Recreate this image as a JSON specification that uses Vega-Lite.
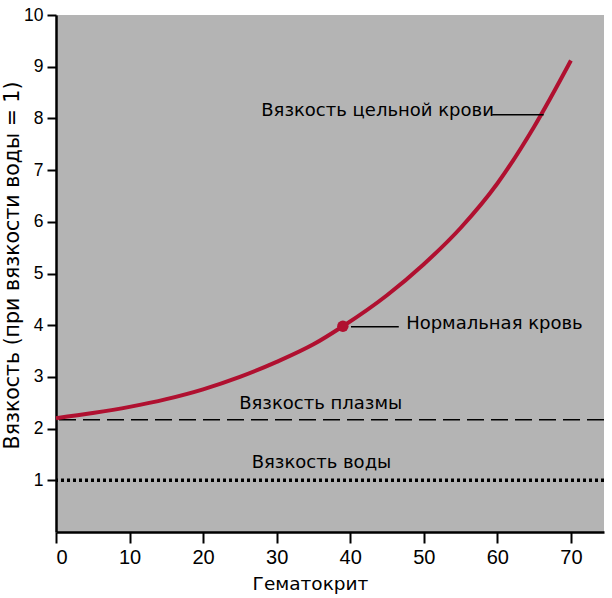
{
  "$schema": "https://vega.github.io/schema/vega-lite/v6.json",
  "width": 548,
  "height": 517,
  "padding": {"left": 56, "top": 15, "right": 8, "bottom": 66},
  "autosize": {"type": "none"},
  "background": "white",
  "config": {
    "view": {"fill": "#b4b4b4", "stroke": null},
    "font": "Liberation Sans"
  },
  "datasets": {
    "curve": [
      {"h": 0, "v": 2.2}, {"h": 5, "v": 2.3}, {"h": 10, "v": 2.42}, {"h": 15, "v": 2.57},
      {"h": 20, "v": 2.76}, {"h": 25, "v": 3.0}, {"h": 30, "v": 3.29}, {"h": 35, "v": 3.63},
      {"h": 39, "v": 3.98}, {"h": 45, "v": 4.58}, {"h": 50, "v": 5.18}, {"h": 55, "v": 5.88},
      {"h": 60, "v": 6.74}, {"h": 65, "v": 7.84}, {"h": 70, "v": 9.12}
    ],
    "labels": [
      {"h": 27.9, "v": 8.05, "t": "Вязкость цельной крови"},
      {"h": 47.6, "v": 3.93, "t": "Нормальная кровь"},
      {"h": 24.9, "v": 2.38, "t": "Вязкость плазмы"},
      {"h": 26.6, "v": 1.24, "t": "Вязкость воды"}
    ],
    "leaders": [
      {"h": 59.3, "h2": 66.3, "v": 8.07},
      {"h": 40.1, "h2": 46.6, "v": 3.97}
    ]
  },
  "encoding": {
    "x": {
      "field": "h", "type": "quantitative",
      "scale": {"domain": [0, 74.5], "nice": false, "zero": false},
      "axis": {
        "title": "Гематокрит", "values": [0, 10, 20, 30, 40, 50, 60, 70],
        "grid": false, "domainColor": "black", "domainWidth": 2.5,
        "tickColor": "black", "tickWidth": 2, "tickSize": 11,
        "labelFontSize": 20, "labelColor": "black", "labelPadding": 4,
        "titleFont": "DejaVu Sans", "titleFontSize": 18.5, "titleFontWeight": "normal", "titleColor": "black",
        "titlePadding": 7, "titleX": 254
      }
    },
    "y": {
      "field": "v", "type": "quantitative",
      "scale": {"domain": [0, 10], "nice": false},
      "axis": {
        "title": "Вязкость (при вязкости воды = 1)",
        "values": [1, 2, 3, 4, 5, 6, 7, 8, 9, 10],
        "grid": false, "domainColor": "black", "domainWidth": 2.5,
        "tickColor": "black", "tickWidth": 2, "tickSize": 9,
        "labelFontSize": 17.5, "labelColor": "black", "labelPadding": 4,
        "titleFont": "DejaVu Sans", "titleFontSize": 20.5, "titleFontWeight": "normal", "titleColor": "black",
        "titlePadding": 1, "titleY": 250
      }
    }
  },
  "layer": [
    {
      "data": {"values": [{"v": 1}]},
      "mark": {"type": "rule", "color": "black", "strokeWidth": 3.5, "strokeDash": [3, 3]},
      "encoding": {"x": null, "y": {"field": "v", "type": "quantitative"}}
    },
    {
      "data": {"values": [{"v": 2.17}]},
      "mark": {"type": "rule", "color": "black", "strokeWidth": 1.5, "strokeDash": [17, 7]},
      "encoding": {"x": null, "y": {"field": "v", "type": "quantitative"}}
    },
    {
      "data": {"name": "curve"},
      "mark": {"type": "line", "color": "#b01030", "strokeWidth": 4, "interpolate": "monotone"}
    },
    {
      "data": {"values": [{"h": 39, "v": 3.98}]},
      "mark": {"type": "point", "filled": true, "color": "#b01030", "size": 130, "opacity": 1}
    },
    {
      "data": {"name": "leaders"},
      "mark": {"type": "rule", "color": "black", "strokeWidth": 1.5},
      "encoding": {"x2": {"field": "h2"}}
    },
    {
      "data": {"name": "labels"},
      "mark": {"type": "text", "align": "left", "baseline": "alphabetic", "font": "DejaVu Sans", "fontSize": 18, "color": "black"},
      "encoding": {"text": {"field": "t"}}
    }
  ]
}
